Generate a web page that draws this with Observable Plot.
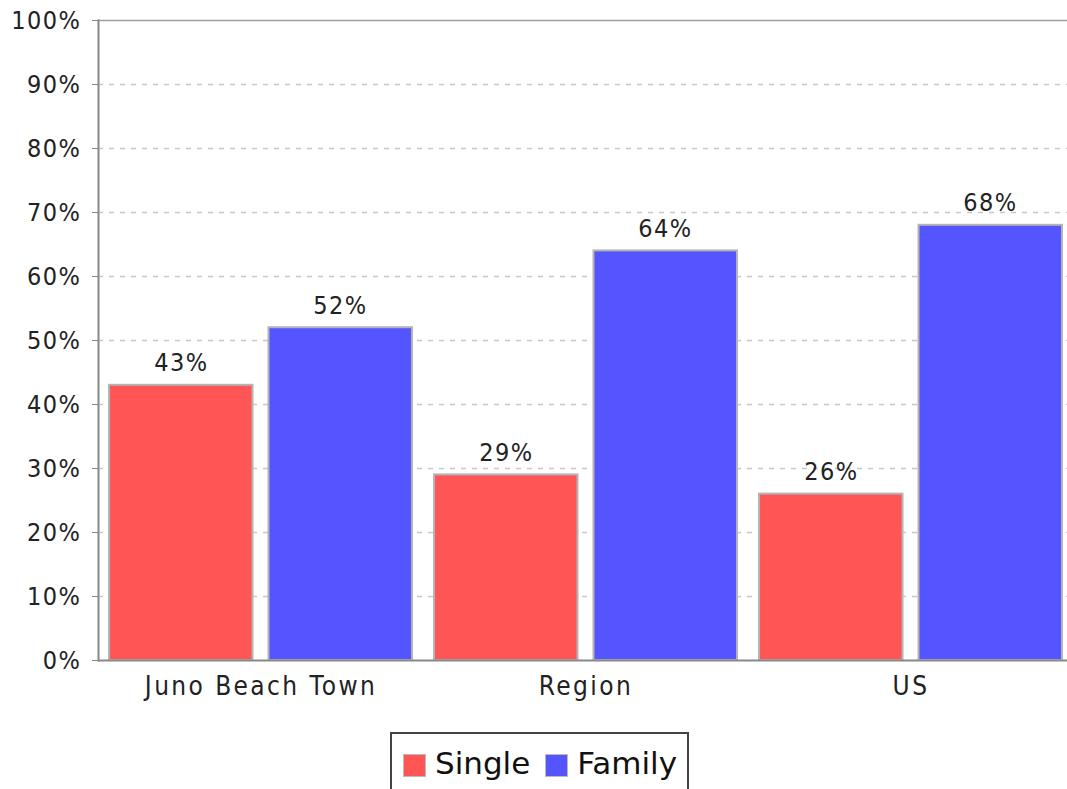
<!DOCTYPE html>
<html>
<head>
<meta charset="utf-8">
<script src="https://cdn.jsdelivr.net/npm/d3@7"></script>
<script src="https://cdn.jsdelivr.net/npm/@observablehq/plot@0.6"></script>
<style>
  html, body { margin: 0; padding: 0; background: #fff; overflow: hidden; width: 1067px; }
  #chart { width: 1067px; height: 710px; overflow: hidden; }
  #chart svg { display: block; max-width: none !important; width: 1073px !important; height: 710px !important; }
  #chart svg g[aria-label="x-axis tick label"] text { letter-spacing: 2.4px; }
  #chart svg g[aria-label="y-axis tick label"] text { letter-spacing: 1.5px; }
  #chart svg g[aria-label="text"] text { letter-spacing: 1.5px; }
  .legend {
    margin: 22px 0 0 390px;
    width: 299px;
    height: 70px;
    box-sizing: border-box;
    border: 2px solid #444;
    border-bottom: none;
    display: flex;
    align-items: flex-start;
    padding: 11px 0 0 11px;
    font-family: "DejaVu Sans", sans-serif;
    font-size: 31px;
    color: #111;
  }
  .legend .item { display: flex; align-items: center; margin-right: 15px; }
  .legend .sw { width: 21px; height: 21px; border: 1px solid #bbb; margin-right: 9px; margin-top: 4px; }
</style>
</head>
<body>
<div id="chart"></div>
<script>
const categories = ["Juno Beach Town", "Region", "US"];
const series = ["Single", "Family"];
const singleValues = [0.43, 0.29, 0.26];
const familyValues = [0.52, 0.64, 0.68];
const yTicks = [0, 0.1, 0.2, 0.3, 0.4, 0.5, 0.6, 0.7, 0.8, 0.9, 1.0];
const colors = {Single: "#FF5555", Family: "#5555FF"};

const single = categories.map((c, i) => ({category: c, series: "Single", value: singleValues[i]}));
const family = categories.map((c, i) => ({category: c, series: "Family", value: familyValues[i]}));

const fmt = d3.format(".0%");
const labelFont = "DejaVu Sans Condensed";

const chart = Plot.plot({
  width: 1073,
  height: 710,
  marginTop: 20,
  marginBottom: 50,
  marginLeft: 98,
  marginRight: 0,
  style: {fontFamily: labelFont, fontSize: "25px", background: "#fff", color: "#222", maxWidth: "none"},
  x: {domain: categories, padding: 0, axis: null},
  y: {domain: [0, 1], axis: null},
  marks: [
    Plot.gridY(yTicks.slice(1, -1), {stroke: "#c8c8c8", strokeOpacity: 1, strokeWidth: 1.5, strokeDasharray: "5,6"}),
    Plot.ruleY([1], {stroke: "#a0a0a0", strokeWidth: 1.5}),
    Plot.barY(single, {x: "category", y: "value", fill: colors.Single, stroke: "#b4b4b4", strokeWidth: 2, insetLeft: 11, insetRight: 170.5}),
    Plot.barY(family, {x: "category", y: "value", fill: colors.Family, stroke: "#b4b4b4", strokeWidth: 2, insetLeft: 170.5, insetRight: 11}),
    Plot.text(single, {x: "category", y: "value", text: d => fmt(d.value), dx: -79.5, dy: -14, lineAnchor: "bottom", fill: "#222", fontSize: 25}),
    Plot.text(family, {x: "category", y: "value", text: d => fmt(d.value), dx: 79.5, dy: -14, lineAnchor: "bottom", fill: "#222", fontSize: 25}),
    Plot.ruleY([0], {stroke: "#888", strokeWidth: 2}),
    Plot.frame({anchor: "left", stroke: "#888", strokeWidth: 2}),
    Plot.axisY(yTicks, {tickFormat: fmt, tickSize: 6, tickPadding: 11, fontSize: 25, stroke: "#888", fill: "#222", label: null}),
    Plot.axisX(categories, {tickSize: 0, tickPadding: 16, fontSize: 26, fill: "#222", label: null})
  ]
});
document.getElementById("chart").appendChild(chart);

const legend = document.createElement("div");
legend.className = "legend";
series.forEach(s => {
  const item = document.createElement("div");
  item.className = "item";
  const sw = document.createElement("span");
  sw.className = "sw";
  sw.style.background = colors[s];
  const t = document.createElement("span");
  t.textContent = s;
  item.appendChild(sw);
  item.appendChild(t);
  legend.appendChild(item);
});
document.body.appendChild(legend);
</script>
</body>
</html>
